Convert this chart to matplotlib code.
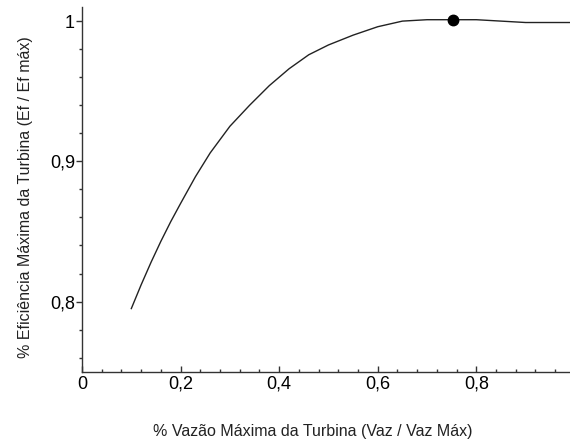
import matplotlib.pyplot as plt
from matplotlib.ticker import FixedLocator, MultipleLocator

plt.rcParams["font.family"] = ["Liberation Sans", "DejaVu Sans"]

# turbine efficiency curve (fraction of max flow vs fraction of max efficiency)
vazao = [0.10, 0.12, 0.14, 0.16, 0.18, 0.20, 0.23, 0.26, 0.30, 0.34,
         0.38, 0.42, 0.46, 0.50, 0.55, 0.60, 0.65, 0.70, 0.75, 0.80,
         0.85, 0.90, 0.95, 0.99]
eficiencia = [0.795, 0.812, 0.828, 0.843, 0.857, 0.870, 0.889, 0.906,
              0.925, 0.940, 0.954, 0.966, 0.976, 0.983, 0.990, 0.996,
              1.000, 1.001, 1.001, 1.001, 1.000, 0.999, 0.999, 0.999]

ponto_max = (0.752, 1.001)

x_ticks = [0, 0.2, 0.4, 0.6, 0.8]
x_labels = ["0", "0,2", "0,4", "0,6", "0,8"]
y_ticks = [0.8, 0.9, 1.0]
y_labels = ["0,8", "0,9", "1"]

fig = plt.figure(figsize=(5.7, 4.43), dpi=100)
ax = fig.add_axes([0.1439, 0.161, 0.8561, 0.823])

ax.plot(vazao, eficiencia, color="#222222", lw=1.0)
ax.plot(*ponto_max, "o", color="black", markersize=7.5)

ax.set_xlim(0, 0.99)
ax.set_ylim(0.75, 1.01)

ax.spines["top"].set_visible(False)
ax.spines["right"].set_visible(False)
for s in ("left", "bottom"):
    ax.spines[s].set_color("#333333")
    ax.spines[s].set_linewidth(1.0)

ax.xaxis.set_major_locator(FixedLocator(x_ticks))
ax.set_xticklabels(x_labels)
ax.xaxis.set_minor_locator(MultipleLocator(0.04))
ax.yaxis.set_major_locator(FixedLocator(y_ticks))
ax.set_yticklabels(y_labels)
ax.yaxis.set_minor_locator(MultipleLocator(0.02))

ax.tick_params(axis="x", which="major", direction="in", length=4, width=1,
               color="#333333", labelsize=13, pad=3)
ax.tick_params(axis="x", which="minor", direction="in", length=2.5, width=1,
               color="#333333")
ax.tick_params(axis="y", which="major", direction="out", length=4, width=1,
               color="#333333", labelsize=13, pad=1)
ax.tick_params(axis="y", which="minor", direction="out", length=2, width=1,
               color="#333333")

fig.text(0.548, 0.025, "% Vazão Máxima da Turbina (Vaz / Vaz Máx)",
         ha="center", va="center", fontsize=11.5, color="#222222")
fig.text(0.044, 0.555, "% Eficiência Máxima da Turbina (Ef / Ef máx)",
         ha="center", va="center", rotation=90, fontsize=11.5, color="#222222")

fig.savefig("out.png", dpi=100)
